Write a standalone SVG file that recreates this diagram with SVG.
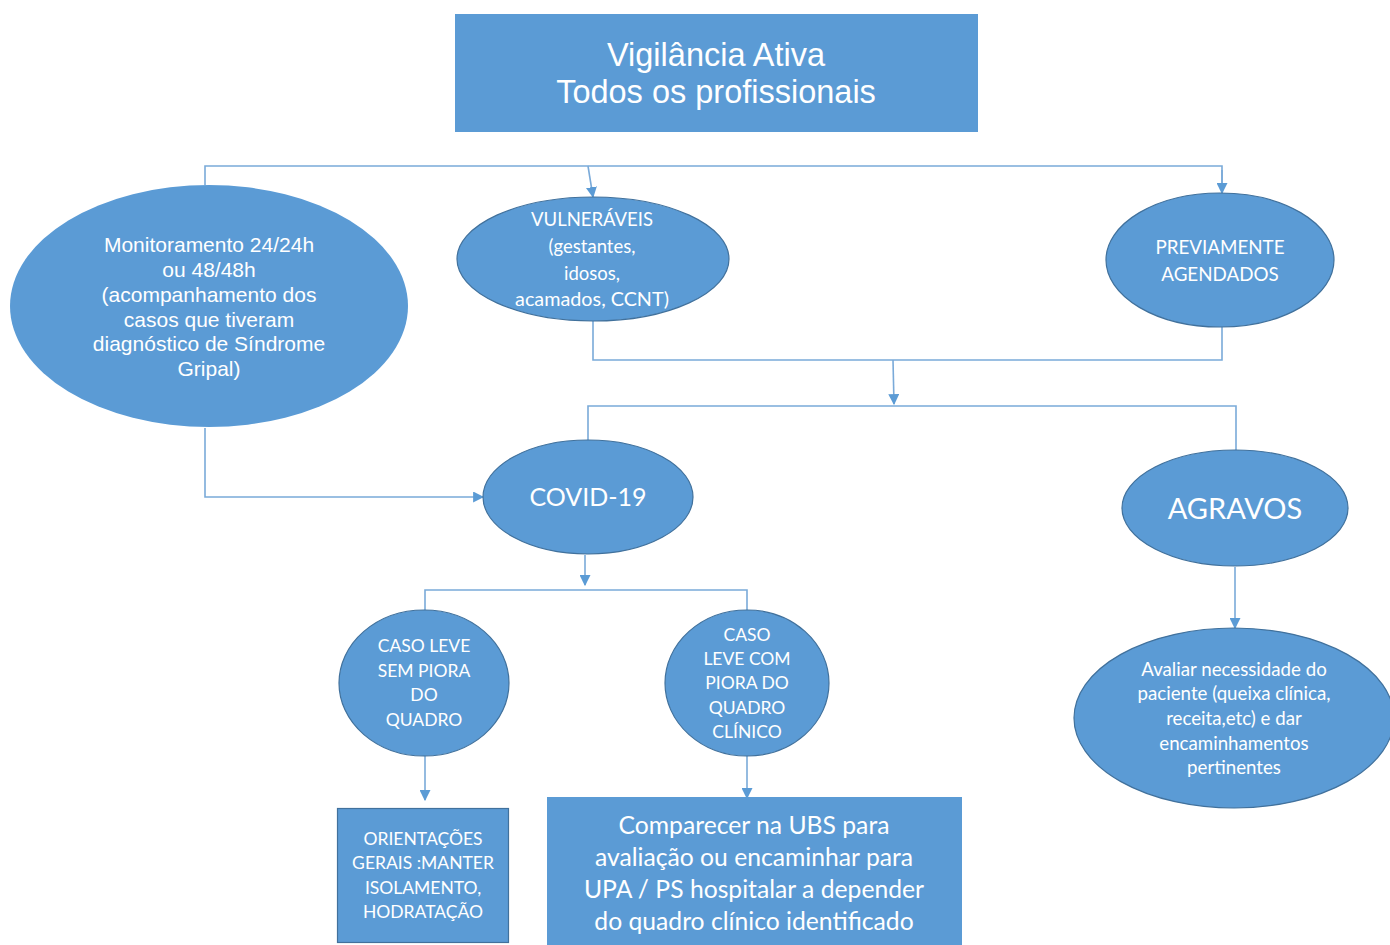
<svg xmlns="http://www.w3.org/2000/svg" width="1390" height="945" viewBox="0 0 1390 945">
<defs>
<marker id="arr" viewBox="0 0 10 10" refX="9" refY="5" markerWidth="11" markerHeight="11" orient="auto" markerUnits="userSpaceOnUse">
<path d="M0,0 L10,5 L0,10 z" fill="#5b9bd5"/>
</marker>
<style>
.sh{fill:#5b9bd5;stroke:#41719c;stroke-width:1.2}
.shn{fill:#5b9bd5}
.c{fill:none;stroke:#7aaad9;stroke-width:1.6}
.ca{fill:none;stroke:#7aaad9;stroke-width:1.6;marker-end:url(#arr)}
.ta{font-family:"Liberation Sans",Arial,sans-serif;fill:#fff;text-anchor:middle}
.tc{font-family:Lato,"Open Sans",sans-serif;fill:#fff;text-anchor:middle}
</style>
</defs>
<rect width="1390" height="945" fill="#fff"/>
<g id="connectors">
<polyline class="c" points="205,185 205,166 1222,166 1222,183"/>
<line class="ca" x1="588" y1="166" x2="593" y2="197"/>
<line class="ca" x1="1222" y1="170" x2="1222" y2="193"/>
<polyline class="c" points="593,321 593,360 1222,360 1222,327"/>
<line class="ca" x1="893" y1="360" x2="894" y2="404"/>
<polyline class="c" points="588,441 588,406 1236,406 1236,450"/>
<polyline class="ca" points="205,428 205,497 483,497"/>
<line class="ca" x1="585" y1="555" x2="585" y2="585"/>
<polyline class="c" points="425,610 425,590 747,590 747,610"/>
<line class="ca" x1="425" y1="756" x2="425" y2="800"/>
<line class="ca" x1="747" y1="756" x2="747" y2="798"/>
<line class="ca" x1="1235" y1="567" x2="1235" y2="628"/>
</g>
<g id="top">
<rect class="shn" x="455" y="14" width="523" height="118"/>
<text class="ta" x="716" y="66" font-size="32.5">Vigilância Ativa</text>
<text class="ta" x="716" y="103" font-size="32.5">Todos os profissionais</text>
</g>
<g id="monitoramento">
<ellipse class="shn" cx="209" cy="306" rx="199" ry="121"/>
<text class="ta" font-size="21"><tspan x="209" y="252">Monitoramento 24/24h</tspan><tspan x="209" y="277">ou 48/48h</tspan><tspan x="209" y="302">(acompanhamento dos</tspan><tspan x="209" y="327">casos que tiveram</tspan><tspan x="209" y="351">diagnóstico de Síndrome</tspan><tspan x="209" y="376">Gripal)</tspan></text>
</g>
<g id="vulneraveis">
<ellipse class="sh" cx="593" cy="259" rx="136" ry="62"/>
<text class="tc" font-size="18.5"><tspan x="592" y="226">VULNERÁVEIS</tspan><tspan x="592" y="253">(gestantes,</tspan><tspan x="592" y="280">idosos,</tspan><tspan x="592" y="306" font-size="19.8">acamados, CCNT)</tspan></text>
</g>
<g id="previamente">
<ellipse class="sh" cx="1220" cy="260" rx="114" ry="67"/>
<text class="tc" font-size="18.8"><tspan x="1220" y="254">PREVIAMENTE</tspan><tspan x="1220" y="281">AGENDADOS</tspan></text>
</g>
<g id="covid">
<ellipse class="sh" cx="588" cy="497" rx="105" ry="57"/>
<text class="tc" x="588" y="506" font-size="25">COVID-19</text>
</g>
<g id="agravos">
<ellipse class="sh" cx="1235" cy="508" rx="113" ry="58"/>
<text class="tc" x="1235" y="519" font-size="29">AGRAVOS</text>
</g>
<g id="casoleve">
<ellipse class="sh" cx="424" cy="683" rx="85" ry="73"/>
<text class="tc" font-size="17.5"><tspan x="424" y="652">CASO LEVE</tspan><tspan x="424" y="677">SEM PIORA</tspan><tspan x="424" y="701">DO</tspan><tspan x="424" y="726">QUADRO</tspan></text>
</g>
<g id="casopiora">
<ellipse class="sh" cx="747" cy="683" rx="82" ry="73"/>
<text class="tc" font-size="17.5"><tspan x="747" y="641">CASO</tspan><tspan x="747" y="665">LEVE COM</tspan><tspan x="747" y="689">PIORA DO</tspan><tspan x="747" y="714">QUADRO</tspan><tspan x="747" y="738">CLÍNICO</tspan></text>
</g>
<g id="orientacoes">
<rect class="sh" x="337.5" y="808.5" width="171" height="134"/>
<text class="tc" font-size="17.5"><tspan x="423" y="845">ORIENTAÇÕES</tspan><tspan x="423" y="869">GERAIS :MANTER</tspan><tspan x="423" y="894">ISOLAMENTO,</tspan><tspan x="423" y="918">HODRATAÇÃO</tspan></text>
</g>
<g id="comparecer">
<rect class="shn" x="547" y="797" width="415" height="150"/>
<text class="tc" font-size="24.7"><tspan x="754" y="834">Comparecer na UBS para</tspan><tspan x="754" y="866">avaliação ou encaminhar para</tspan><tspan x="754" y="898">UPA / PS hospitalar a depender</tspan><tspan x="754" y="930">do quadro clínico identificado</tspan></text>
</g>
<g id="avaliar">
<ellipse class="sh" cx="1234" cy="718" rx="160" ry="90"/>
<text class="tc" font-size="18.7"><tspan x="1234" y="676">Avaliar necessidade do</tspan><tspan x="1234" y="700">paciente (queixa clínica,</tspan><tspan x="1234" y="725">receita,etc) e dar</tspan><tspan x="1234" y="750">encaminhamentos</tspan><tspan x="1234" y="774">pertinentes</tspan></text>
</g>
</svg>
